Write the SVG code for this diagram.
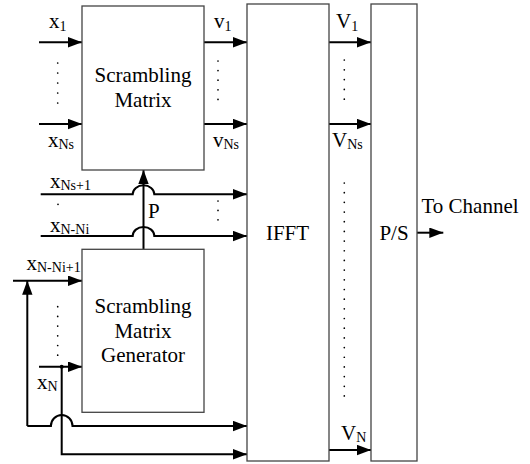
<svg xmlns="http://www.w3.org/2000/svg" width="530" height="464" viewBox="0 0 530 464">
<defs>
<marker id="arr" markerUnits="userSpaceOnUse" markerWidth="14" markerHeight="11" refX="14" refY="5.2" orient="auto-start-reverse"><path d="M0,0 L14,5.2 L0,10.4 z" fill="#000"/></marker>
<style>
.box{fill:#fff;stroke:#444;stroke-width:1.3}
.ln{fill:none;stroke:#000;stroke-width:2}
.a{marker-end:url(#arr)}
.t{font-family:"Liberation Serif","Times New Roman",serif;font-size:21px;fill:#000}
.s{font-size:14px}
.c{text-anchor:middle}
.dots{stroke:#000;stroke-width:1.7;stroke-linecap:round;fill:none}
</style>
</defs>
<rect width="530" height="464" fill="#fff"/>
<g id="connectors">
<path class="ln a" d="M39 42.3 H82"/>
<path class="ln a" d="M39 124 H82"/>
<path class="ln a" d="M204 42.3 H247"/>
<path class="ln a" d="M204 124 H247"/>
<path class="ln a" d="M40.7 194.3 H132.7 A10.8 9 0 0 1 154.3 194.3 H247"/>
<path class="ln a" d="M40.7 236 H132.7 A10.8 9 0 0 1 154.3 236 H247"/>
<path class="ln a" d="M143.5 249.3 V170"/>
<path class="ln a" d="M13 280.7 H82"/>
<path class="ln a" d="M27.3 426 V280.7" />
<path class="ln a" d="M27.3 426 H50.9 A10.8 11 0 0 1 72.5 426 H247"/>
<path class="ln a" d="M39 366.7 H82"/>
<circle cx="61.7" cy="366.7" r="2" fill="#000"/>
<path class="ln a" d="M61.7 366.7 V454.3 H247"/>
<path class="ln a" d="M329 42.3 H371"/>
<path class="ln a" d="M329 124 H371"/>
<path class="ln a" d="M329 450 H371"/>
<path class="ln a" d="M417 232.7 H443.3"/>
</g>
<g id="dots">
<path class="dots" stroke-dasharray="0 10" d="M57.7 63 V113"/>
<path class="dots" stroke-dasharray="0 9.6" d="M218 61 V109"/>
<path class="dots" stroke-dasharray="0 9" d="M58 204.3 V213.3"/>
<path class="dots" stroke-dasharray="0 9.4" d="M218 201 V229.2"/>
<path class="dots" stroke-dasharray="0 9.7" d="M57.7 306.7 V355.2"/>
<path class="dots" stroke-dasharray="0 9.8" d="M344.3 60 V109"/>
<path class="dots" stroke-dasharray="0 9.68" d="M344.3 183 V396"/>
</g>
<g id="scrambling-matrix">
<rect class="box" x="82" y="6" width="122" height="164"/>
<text class="t c" x="143" y="82">Scrambling</text>
<text class="t c" x="143" y="107">Matrix</text>
</g>
<g id="generator">
<rect class="box" x="82" y="249.3" width="122" height="163"/>
<text class="t c" x="143" y="313">Scrambling</text>
<text class="t c" x="143" y="337.5">Matrix</text>
<text class="t c" x="143" y="362">Generator</text>
</g>
<g id="ifft">
<rect class="box" x="247" y="4" width="82" height="457"/>
<text class="t c" x="287.5" y="240">IFFT</text>
</g>
<g id="ps">
<rect class="box" x="371" y="4" width="46" height="457"/>
<text class="t c" x="394" y="240">P/S</text>
</g>
<g id="labels">
<text class="t" x="49" y="28">x<tspan class="s" dy="2.5">1</tspan></text>
<text class="t" x="48" y="147">x<tspan class="s" dy="2">Ns</tspan></text>
<text class="t" x="50" y="188">x<tspan class="s" dy="2">Ns+1</tspan></text>
<text class="t" x="50" y="231.5">x<tspan class="s" dy="2">N-Ni</tspan></text>
<text class="t" x="26.5" y="270">x<tspan class="s" dy="2">N-Ni+1</tspan></text>
<text class="t" x="37" y="389">x<tspan class="s" dy="2">N</tspan></text>
<text class="t" x="214" y="28">v<tspan class="s" dy="2.5">1</tspan></text>
<text class="t" x="213" y="147">v<tspan class="s" dy="2">Ns</tspan></text>
<text class="t" x="336" y="28">V<tspan class="s" dy="2.5">1</tspan></text>
<text class="t" x="332" y="146.7">V<tspan class="s" dy="2">Ns</tspan></text>
<text class="t" x="341" y="440">V<tspan class="s" dy="2">N</tspan></text>
<text class="t" x="148" y="218">P</text>
<text class="t" x="421.5" y="213">To Channel</text>
</g>
</svg>
